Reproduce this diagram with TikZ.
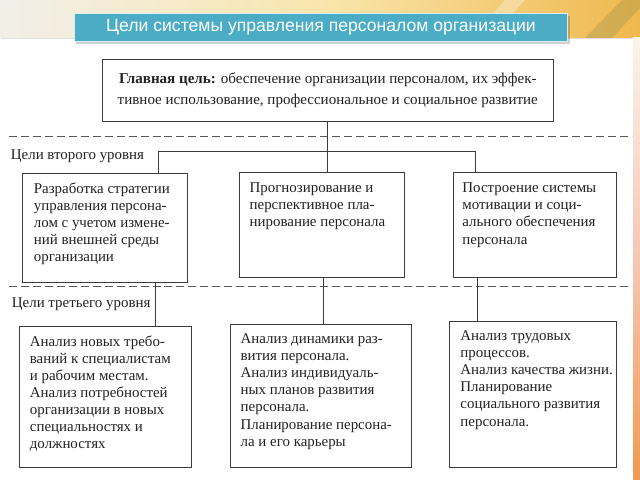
\documentclass[tikz,border=0pt]{standalone}
\usepackage{fontspec}
\setmainfont{Liberation Serif}
\newfontfamily\headfont{Liberation Sans}
\usetikzlibrary{positioning}
\definecolor{barblue}{HTML}{4BACC6}
\definecolor{inkgray}{HTML}{222222}
\definecolor{rulegray}{HTML}{3A3A3A}
\definecolor{creamL}{HTML}{F2EFE9}
\definecolor{creamM}{HTML}{F9E6AE}
\definecolor{goldR}{HTML}{EFB84E}
\definecolor{edgeTop}{HTML}{FBF3EA}
\definecolor{edgeMid}{HTML}{F6C6B4}
\definecolor{edgeBot}{HTML}{F19A52}
\def\px{0.75pt}
\tikzstyle{block} = [draw=rulegray, line width=0.75pt, fill=white, rectangle, anchor=north west, inner sep=0pt]
\tikzstyle{blocktext} = [anchor=north west, align=left, inner sep=0pt, text=inkgray, font=\fontsize{11.2}{12.8}\selectfont]
\tikzstyle{leveltext} = [anchor=west, inner sep=0pt, text=inkgray, font=\fontsize{11.2}{12.8}\selectfont]
\tikzstyle{levelline} = [draw=rulegray!85, line width=0.75pt, dash pattern=on 6pt off 3pt]
\tikzstyle{link} = [draw=rulegray, line width=0.75pt]

\begin{document}
\begin{tikzpicture}[x=0.75pt, y=-0.75pt]
    % slide background
    \fill[white] (0,0) rectangle (640,480);
    \shade[left color=creamL, right color=goldR, middle color=creamM] (0,0) rectangle (640,38);
    \fill[white, opacity=0.3] (470,38) -- (505,0) -- (525,0) -- (490,38) -- cycle;
    \fill[olive!50!gray, opacity=0.3] (585,38) -- (622,0) -- (640,0) -- (640,8) -- (612,38) -- cycle;
    \draw[black!12, line width=1pt] (0,38.5) -- (632,38.5);
    \shade[top color=edgeTop, bottom color=edgeBot, middle color=edgeMid] (633,38) rectangle (640,480);

    % title bar
    \fill[black, opacity=0.18] (75,16) rectangle (570,44);
    \node [draw=white!80!barblue, line width=1pt, fill=barblue, anchor=north west,
           minimum width=494*\px, minimum height=28*\px, inner sep=0pt,
           text=white, font=\headfont\fontsize{13.2}{15}\selectfont] (title) at (73,13)
           {Цели системы управления персоналом организации};

    % main goal
    \node [block, minimum width=452*\px, minimum height=62*\px, align=center, text=inkgray,
           font=\fontsize{11.3}{15.6}\selectfont] (goal) at (101,59)
           {\textbf{Главная цель:} обеспечение организации персоналом, их эффек-\\
            тивное использование, профессиональное и социальное развитие};

    % level separators
    \draw [levelline] (8,137) -- (632,137);
    \draw [levelline] (8,287) -- (632,287);
    \node [leveltext] (lvltwo) at (10,156) {Цели второго уровня};
    \node [leveltext] (lvlthree) at (11,305) {Цели третьего уровня};

    % second level
    \node [block, minimum width=166*\px, minimum height=109*\px] (twoA) at (21,173) {};
    \node [block, minimum width=165*\px, minimum height=105*\px] (twoB) at (239,172) {};
    \node [block, minimum width=163*\px, minimum height=105*\px] (twoC) at (453,172) {};
    \node [blocktext] (twoAtext) at (33,183) {Разработка стратегии\\управления персона-\\лом с учетом измене-\\ний внешней среды\\организации};
    \node [blocktext] (twoBtext) at (249,183) {Прогнозирование и\\перспективное пла-\\нирование персонала};
    \node [blocktext] (twoCtext) at (462,183) {Построение системы\\мотивации и соци-\\ального обеспечения\\персонала};

    % third level
    \node [block, minimum width=173*\px, minimum height=141*\px] (threeA) at (18,326) {};
    \node [block, minimum width=181*\px, minimum height=143*\px] (threeB) at (230,324) {};
    \node [block, minimum width=167*\px, minimum height=146*\px] (threeC) at (449,321) {};
    \node [blocktext] (threeAtext) at (29,336) {Анализ новых требо-\\ваний к специалистам\\и рабочим местам.\\Анализ потребностей\\организации в новых\\специальностях и\\должностях};
    \node [blocktext] (threeBtext) at (240,334) {Анализ динамики раз-\\вития персонала.\\Анализ индивидуаль-\\ных планов развития\\персонала.\\Планирование персона-\\ла и его карьеры};
    \node [blocktext] (threeCtext) at (460,331) {Анализ трудовых\\процессов.\\Анализ качества жизни.\\Планирование\\социального развития\\персонала.};

    % connectors
    \coordinate (forkL) at (158,152);
    \coordinate (forkR) at (475,152);
    \coordinate (dropA) at (155,0);
    \coordinate (dropB) at (323,0);
    \coordinate (dropC) at (477,0);
    \draw [link] (goal.south) -- (goal.south |- twoB.north);
    \draw [link] (twoA.north -| forkL) -- (forkL) -- (forkR) -- (twoC.north -| forkR);
    \draw [link] (twoA.south -| dropA) -- (threeA.north -| dropA);
    \draw [link] (twoB.south -| dropB) -- (threeB.north -| dropB);
    \draw [link] (twoC.south -| dropC) -- (threeC.north -| dropC);
\end{tikzpicture}
\end{document}
